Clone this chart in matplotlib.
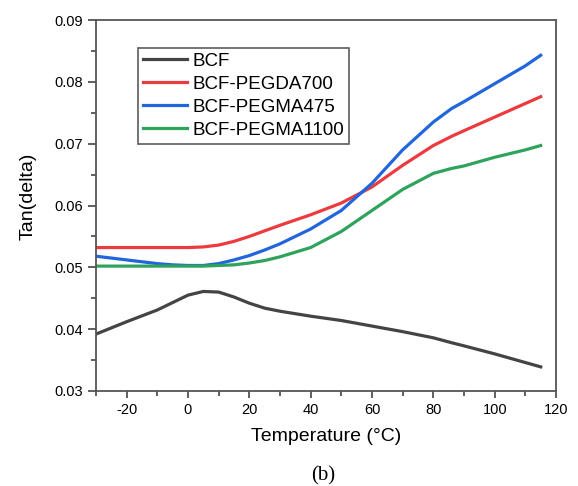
import numpy as np
import matplotlib.pyplot as plt
from matplotlib.ticker import MultipleLocator

plt.rcParams['font.family'] = ['Liberation Sans', 'DejaVu Sans']
plt.rcParams['axes.unicode_minus'] = False

temp = [-30, -20, -10, -5, 0, 5, 10, 15, 20, 25, 30, 40, 50, 60, 70, 80, 86, 90, 100, 110, 115]

bcf = [0.0392, 0.0412, 0.0431, 0.0443, 0.0455, 0.0461, 0.0460, 0.0452, 0.0442, 0.0434,
       0.0429, 0.0421, 0.0414, 0.0405, 0.0396, 0.0386, 0.0378, 0.0373, 0.0360, 0.0346, 0.0339]
pegda700 = [0.0532, 0.0532, 0.0532, 0.0532, 0.0532, 0.0533, 0.0536, 0.0542, 0.0550, 0.0559,
            0.0568, 0.0585, 0.0604, 0.0630, 0.0665, 0.0697, 0.0712, 0.0721, 0.0743, 0.0765, 0.0776]
pegma475 = [0.0518, 0.0512, 0.0506, 0.0504, 0.0503, 0.0503, 0.0506, 0.0512, 0.0519, 0.0528,
            0.0538, 0.0562, 0.0592, 0.0636, 0.0690, 0.0735, 0.0757, 0.0768, 0.0797, 0.0826, 0.0843]
pegma1100 = [0.0502, 0.0502, 0.0502, 0.0502, 0.0502, 0.0502, 0.0503, 0.0504, 0.0507, 0.0511,
             0.0517, 0.0532, 0.0558, 0.0592, 0.0626, 0.0652, 0.0660, 0.0664, 0.0678, 0.0690, 0.0697]

labels = ['BCF', 'BCF-PEGDA700', 'BCF-PEGMA475', 'BCF-PEGMA1100']
colors = ['#444444', '#ec3b3f', '#2166dc', '#2ea35c']

fig = plt.figure(figsize=(5.78, 4.86), dpi=100)
ax = fig.add_axes([0.166, 0.1955, 0.796, 0.7633])

for ys, lab, c in zip([bcf, pegda700, pegma475, pegma1100], labels, colors):
    ax.plot(temp, ys, color=c, lw=2.3, label=lab, solid_joinstyle='round')

ax.set_xlim(-30, 120)
ax.set_ylim(0.03, 0.09)
ax.xaxis.set_major_locator(MultipleLocator(20))
ax.xaxis.set_minor_locator(MultipleLocator(10))
ax.yaxis.set_major_locator(MultipleLocator(0.01))
ax.yaxis.set_minor_locator(MultipleLocator(0.005))
ax.set_yticks(np.arange(0.03, 0.0901, 0.01))
ax.set_yticklabels(['%.2f' % v for v in np.arange(0.03, 0.0901, 0.01)])
ax.set_xticks([-20, 0, 20, 40, 60, 80, 100, 120])

ax.tick_params(which='major', direction='out', length=6, width=1.2, labelsize=10.5, color='#444444')
ax.tick_params(which='minor', direction='out', length=3.5, width=1.2, color='#444444')
ax.tick_params(axis='x', which='major', length=5)
for s in ax.spines.values():
    s.set_color('#555555')
    s.set_linewidth(1.3)

ax.set_xlabel('Temperature (°C)', fontsize=14, labelpad=8)
ax.set_ylabel('Tan(delta)', fontsize=14)
ax.yaxis.set_label_coords(-0.128, 0.525)

leg = ax.legend(loc='upper left', bbox_to_anchor=(0.092, 0.925), fontsize=13.5, frameon=True,
                fancybox=False, edgecolor='#333333', handlelength=2.35, handletextpad=0.3,
                labelspacing=0.32, borderpad=0.25, borderaxespad=0)
leg.get_frame().set_linewidth(1.2)

fig.text(0.56, 0.001, '(b)', fontsize=15, family='Liberation Serif', ha='center', va='bottom')

fig.savefig('out.png', dpi=100)
